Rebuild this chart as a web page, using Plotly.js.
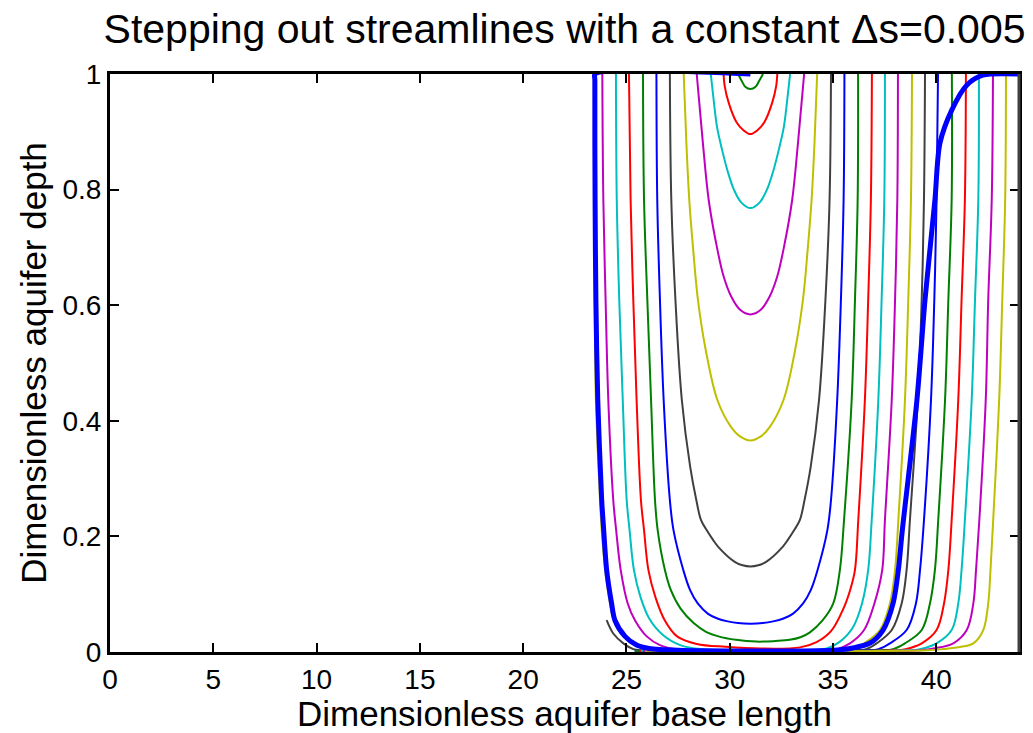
<!DOCTYPE html>
<html>
<head>
<meta charset="utf-8">
<script src="https://cdn.plot.ly/plotly-3.0.1.min.js"></script>
<style>html,body{margin:0;padding:0;background:#fff;}#chart{width:1033px;height:733px;}</style>
</head>
<body>
<div id="chart"></div>
<script>
// ---- Data (dimensionless x = base length, y = depth) ----
const titleText = "Stepping out streamlines with a constant \u0394s=0.005";
const xLabel = "Dimensionless aquifer base length";
const yLabel = "Dimensionless aquifer depth";
const xTicks = [0, 5, 10, 15, 20, 25, 30, 35, 40];
const yTicks = [0, 0.2, 0.4, 0.6, 0.8, 1];

// streamline 1 (green)
const s1x = [30.40, 30.58, 30.75, 31.00, 31.25, 31.42, 31.61];
const s1y = [1.0, 0.988, 0.978, 0.974, 0.978, 0.988, 1.0];
// streamline 2 (red)
const s2x = [29.70, 29.75, 29.95, 30.32, 30.65, 31.00, 31.35, 31.68, 32.05, 32.25, 32.30];
const s2y = [1.0, 0.980, 0.950, 0.917, 0.903, 0.896, 0.903, 0.917, 0.950, 0.980, 1.0];
// streamline 3 (cyan)
const s3x = [29.08, 29.22, 29.38, 29.62, 29.88, 30.20, 30.55, 31.00, 31.45, 31.80, 32.12, 32.38, 32.62, 32.78, 32.92];
const s3y = [1.0, 0.955, 0.909, 0.870, 0.834, 0.800, 0.778, 0.768, 0.778, 0.800, 0.834, 0.870, 0.909, 0.955, 1.0];
// streamline 4 (magenta)
const s4x = [28.40, 28.70, 28.98, 29.38, 29.70, 30.07, 30.50, 31.00, 31.50, 31.93, 32.30, 32.62, 33.02, 33.30, 33.60];
const s4y = [1.0, 0.880, 0.782, 0.700, 0.650, 0.615, 0.592, 0.584, 0.592, 0.615, 0.650, 0.700, 0.782, 0.880, 1.0];
// streamline 5 (yellow)
const s5x = [27.77, 27.90, 28.04, 28.22, 28.46, 28.85, 29.40, 30.05, 30.50, 31.00, 31.50, 31.95, 32.60, 33.15, 33.54, 33.78, 33.96, 34.10, 34.23];
const s5y = [1.0, 0.880, 0.782, 0.700, 0.609, 0.520, 0.436, 0.390, 0.373, 0.366, 0.373, 0.390, 0.436, 0.520, 0.609, 0.700, 0.782, 0.880, 1.0];
// streamline 6 (dark grey)
const s6x = [27.10, 27.17, 27.37, 27.68, 28.08, 28.38, 28.61, 28.88, 29.19, 29.44, 30.24, 30.62, 31.00, 31.38, 31.76, 32.56, 32.81, 33.12, 33.39, 33.62, 33.92, 34.32, 34.63, 34.83, 34.90];
const s6y = [1.0, 0.782, 0.609, 0.436, 0.321, 0.263, 0.228, 0.211, 0.194, 0.182, 0.156, 0.150, 0.148, 0.150, 0.156, 0.182, 0.194, 0.211, 0.228, 0.263, 0.321, 0.436, 0.609, 0.782, 1.0];
// streamline 7 (blue)
const s7x = [26.45, 26.49, 26.62, 26.80, 27.10, 27.28, 27.75, 28.08, 28.45, 28.95, 29.40, 29.90, 30.40, 31.00, 31.60, 32.10, 32.60, 33.05, 33.55, 33.92, 34.25, 34.72, 34.90, 35.20, 35.38, 35.51, 35.55];
const s7y = [1.0, 0.782, 0.609, 0.436, 0.263, 0.210, 0.142, 0.107, 0.084, 0.066, 0.058, 0.053, 0.050, 0.049, 0.050, 0.053, 0.058, 0.066, 0.084, 0.107, 0.142, 0.210, 0.263, 0.436, 0.609, 0.782, 1.0];
// streamline 8 (green)
const s8x = [25.80, 25.85, 26.01, 26.19, 26.38, 26.51, 26.86, 27.15, 27.62, 28.25, 28.85, 29.45, 30.30, 31.30, 32.20, 32.90, 33.45, 33.88, 34.50, 35.01, 35.33, 35.53, 35.90, 36.06, 36.19, 36.21];
const s8y = [1.0, 0.782, 0.609, 0.436, 0.263, 0.211, 0.142, 0.107, 0.075, 0.050, 0.035, 0.027, 0.021, 0.018, 0.019, 0.021, 0.026, 0.034, 0.055, 0.084, 0.142, 0.228, 0.436, 0.609, 0.782, 1.0];
// streamline 9 (red)
const s9x = [25.12, 25.20, 25.33, 25.49, 25.70, 25.85, 26.06, 26.40, 26.85, 27.45, 28.40, 29.80, 31.50, 33.40, 34.20, 34.90, 35.50, 35.85, 36.06, 36.22, 36.54, 36.70, 36.83, 36.88];
const s9y = [1.0, 0.782, 0.609, 0.436, 0.263, 0.211, 0.142, 0.095, 0.055, 0.027, 0.014, 0.009, 0.006, 0.008, 0.017, 0.036, 0.075, 0.110, 0.142, 0.228, 0.436, 0.609, 0.782, 1.0];
// streamline 10 (cyan)
const s10x = [24.49, 24.53, 24.65, 24.82, 25.01, 25.15, 25.36, 25.68, 26.10, 26.75, 27.60, 28.60, 31.50, 34.69, 35.30, 35.95, 36.40, 36.70, 36.87, 37.19, 37.35, 37.48, 37.51];
const s10y = [1.0, 0.782, 0.609, 0.436, 0.263, 0.211, 0.142, 0.095, 0.058, 0.030, 0.012, 0.005, 0.003, 0.006, 0.017, 0.042, 0.084, 0.142, 0.228, 0.436, 0.609, 0.782, 1.0];
// streamline 11 (magenta)
const s11x = [23.83, 23.88, 23.99, 24.12, 24.36, 24.50, 24.72, 25.06, 25.41, 25.98, 26.62, 27.60, 31.00, 35.17, 35.82, 36.50, 37.00, 37.38, 37.51, 37.84, 38.00, 38.11, 38.14];
const s11y = [1.0, 0.782, 0.609, 0.436, 0.263, 0.211, 0.142, 0.084, 0.055, 0.027, 0.012, 0.004, 0.0025, 0.005, 0.015, 0.038, 0.084, 0.142, 0.228, 0.436, 0.609, 0.782, 1.0];
// streamline 12 (yellow)
const s12x = [23.42, 23.43, 23.46, 23.52, 23.72, 23.80, 23.97, 24.20, 24.38, 24.85, 25.40, 26.20, 28.00, 35.90, 36.50, 37.27, 37.75, 38.00, 38.16, 38.48, 38.64, 38.77, 38.82];
const s12y = [1.0, 0.782, 0.609, 0.436, 0.263, 0.211, 0.142, 0.084, 0.055, 0.027, 0.012, 0.005, 0.002, 0.004, 0.015, 0.038, 0.084, 0.142, 0.228, 0.436, 0.609, 0.782, 1.0];
// streamline 13 (dark grey)
const s13x = [24.04, 24.36, 24.85, 25.33, 26.50, 36.00, 36.60, 37.11, 37.84, 38.32, 38.56, 38.72, 39.10, 39.29, 39.40, 39.45];
const s13y = [0.055, 0.032, 0.015, 0.005, 0.002, 0.003, 0.005, 0.015, 0.038, 0.084, 0.142, 0.228, 0.436, 0.609, 0.782, 1.0];
// streamline 14 (blue)
const s14x = [25.40, 36.60, 37.20, 37.75, 38.56, 39.01, 39.21, 39.40, 39.74, 39.90, 40.01, 40.08];
const s14y = [0.002, 0.003, 0.005, 0.015, 0.038, 0.084, 0.142, 0.228, 0.436, 0.609, 0.782, 1.0];
// streamline 15 (green)
const s15x = [25.40, 37.30, 37.90, 38.48, 39.29, 39.69, 39.93, 40.09, 40.42, 40.58, 40.74, 40.75];
const s15y = [0.002, 0.003, 0.005, 0.015, 0.038, 0.084, 0.142, 0.228, 0.436, 0.609, 0.782, 1.0];
// streamline 16 (red)
const s16x = [25.60, 37.90, 38.50, 39.29, 40.01, 40.37, 40.58, 40.74, 41.06, 41.22, 41.38, 41.43];
const s16y = [0.002, 0.003, 0.005, 0.015, 0.038, 0.084, 0.142, 0.228, 0.436, 0.609, 0.782, 1.0];
// streamline 17 (cyan)
const s17x = [25.70, 38.60, 39.20, 40.01, 40.74, 41.06, 41.22, 41.38, 41.71, 41.87, 42.03, 42.06];
const s17y = [0.002, 0.003, 0.005, 0.015, 0.038, 0.084, 0.142, 0.228, 0.436, 0.609, 0.782, 1.0];
// streamline 18 (magenta)
const s18x = [25.80, 39.20, 39.85, 40.82, 41.47, 41.79, 41.92, 42.08, 42.39, 42.51, 42.68, 42.74];
const s18y = [0.002, 0.003, 0.006, 0.015, 0.038, 0.084, 0.142, 0.228, 0.436, 0.609, 0.782, 1.0];
// streamline 19 (yellow)
const s19x = [25.90, 39.60, 40.33, 41.20, 41.79, 42.27, 42.51, 42.62, 42.75, 43.04, 43.19, 43.33, 43.37];
const s19y = [0.002, 0.003, 0.005, 0.009, 0.015, 0.038, 0.084, 0.142, 0.228, 0.436, 0.609, 0.782, 1.0];
// bounding streamline (thick blue)
const s0x = [31.00, 23.48, 23.47, 23.48, 23.52, 23.61, 23.80, 23.88, 24.04, 24.28, 24.44, 24.93, 25.49, 26.10, 27.50, 35.00, 35.96, 36.79, 37.42, 37.91, 38.16, 38.35, 39.06, 39.45, 39.93, 40.17, 40.75, 41.48, 42.25, 44.00];
const s0y = [1.0, 1.0, 0.990, 0.782, 0.609, 0.436, 0.263, 0.220, 0.142, 0.084, 0.055, 0.027, 0.012, 0.006, 0.003, 0.003, 0.007, 0.0156, 0.038, 0.085, 0.142, 0.210, 0.436, 0.609, 0.782, 0.880, 0.938, 0.981, 0.998, 1.0];

// ---- styling ----
const colorOrder = ["#0000FF", "#008000", "#FF0000", "#00BFBF", "#BF00BF", "#BFBF00", "#404040"];
const thinLines = [
  [s1x, s1y], [s2x, s2y], [s3x, s3y], [s4x, s4y], [s5x, s5y], [s6x, s6y], [s7x, s7y],
  [s8x, s8y], [s9x, s9y], [s10x, s10y], [s11x, s11y], [s12x, s12y], [s13x, s13y],
  [s14x, s14y], [s15x, s15y], [s16x, s16y], [s17x, s17y], [s18x, s18y], [s19x, s19y]
];

const FONT = "Liberation Sans, Arial, Helvetica, sans-serif";
const traces = thinLines.map((p, i) => ({
  type: "scatter", mode: "lines", x: p[0], y: p[1],
  line: {color: colorOrder[(i + 1) % colorOrder.length], width: 2, shape: "spline", smoothing: 1},
  hoverinfo: "skip", showlegend: false
}));
traces.push({
  type: "scatter", mode: "lines", x: s0x, y: s0y,
  line: {color: colorOrder[0], width: 5, shape: "spline", smoothing: 0.8},
  hoverinfo: "skip", showlegend: false
});

const axisCommon = {
  showgrid: false, zeroline: false, showline: true, linecolor: "#000", linewidth: 3,
  mirror: "ticks", ticks: "inside", ticklen: 9, tickwidth: 2, tickcolor: "#000",
  tickfont: {family: FONT, size: 28, color: "#000"}, automargin: false
};

const layout = {
  width: 1033, height: 733,
  margin: {l: 110, r: 14, t: 74, b: 81},
  paper_bgcolor: "#fff", plot_bgcolor: "#fff",
  title: {text: titleText, font: {family: FONT, size: 41, color: "#000"},
          x: 0.5465, xanchor: "center", y: 0.961, yanchor: "middle"},
  xaxis: Object.assign({}, axisCommon, {
    range: [0, 44], tickmode: "array", tickvals: xTicks, ticktext: xTicks.map(String),
    title: {text: xLabel, font: {family: FONT, size: 35, color: "#000"}, standoff: 3}
  }),
  yaxis: Object.assign({}, axisCommon, {
    range: [0, 1], tickmode: "array", tickvals: yTicks, ticktext: yTicks.map(String),
    title: {text: yLabel, font: {family: FONT, size: 35, color: "#000"}, standoff: 6}
  }),
  shapes: [{type: "line", xref: "paper", yref: "paper", x0: 1, x1: 1, y0: 0, y1: 1,
            line: {color: "#404040", width: 3}}]
};

Plotly.newPlot("chart", traces, layout, {staticPlot: true, displayModeBar: false});
</script>
</body>
</html>
